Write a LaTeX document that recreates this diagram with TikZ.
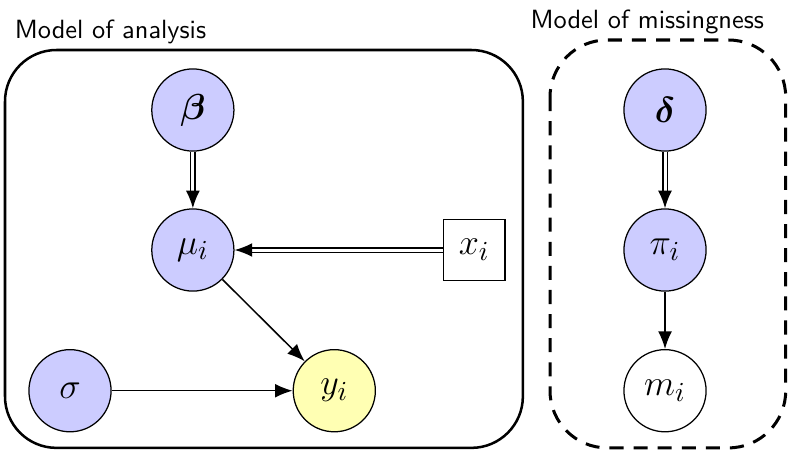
\documentclass[tikz,border=0pt]{standalone}
\usepackage{amsmath}
\usepackage{xcolor}
\usepackage{tikz}
\usetikzlibrary{arrows.meta,positioning}
\definecolor{dagBlue}{HTML}{CCCCFF}
\definecolor{dagYellow}{HTML}{FFFFB3}

\begin{document}
\begin{tikzpicture}[
  >=Latex,
  latent/.style={circle, draw, line width=.5pt, fill=dagBlue, minimum size=1.15cm,
    inner sep=0pt, font=\fontsize{15.5}{18}\selectfont},
  obs/.style={latent, fill=dagYellow},
  ind/.style={latent, fill=white},
  fixed/.style={rectangle, draw, line width=.5pt, minimum size=.86cm,
    inner sep=0pt, font=\fontsize{15.5}{18}\selectfont},
  flow/.style={-{Latex[length=7pt,width=5.5pt]}, line width=.6pt},
  det/.style={flow, double, double distance=1.2pt},
  title/.style={anchor=west, inner sep=0pt, font=\sffamily\fontsize{10.5}{12}\selectfont}
]
  \useasboundingbox (0,0) rectangle (11.046,-6.314);
  % frames
  \draw[line width=1pt, rounded corners=.72cm] (0.07,-0.70) rectangle (7.32,-6.27);
  \draw[line width=1.2pt, dash pattern=on 5.6pt off 4pt, rounded corners=.8cm] (7.70,-0.56) rectangle (11.00,-6.27);
  \node[title] (lblA) at (0.20,-0.45) {Model of analysis};
  \node[title] (lblM) at (7.42,-0.31) {Model of missingness};
  % analysis
  \node[latent] (beta) at (2.70,-1.54) {$\boldsymbol{\beta}$};
  \node[latent] (mu) at (2.70,-3.50) {$\mu_i$};
  \node[fixed] (x) at (6.64,-3.50) {$x_i$};
  \node[latent] (sigma) at (0.98,-5.47) {$\sigma$};
  \node[obs] (y) at (4.68,-5.47) {$y_i$};
  % missingness
  \node[latent] (delta) at (9.31,-1.54) {$\boldsymbol{\delta}$};
  \node[latent] (pi) at (9.31,-3.50) {$\pi_i$};
  \node[ind] (m) at (9.31,-5.47) {$m_i$};
  \draw[det] (beta) -- (mu);
  \draw[det] (x) -- (mu);
  \draw[flow] (mu) -- (y);
  \draw[flow] (sigma) -- (y);
  \draw[det] (delta) -- (pi);
  \draw[flow] (pi) -- (m);
\end{tikzpicture}
\end{document}
